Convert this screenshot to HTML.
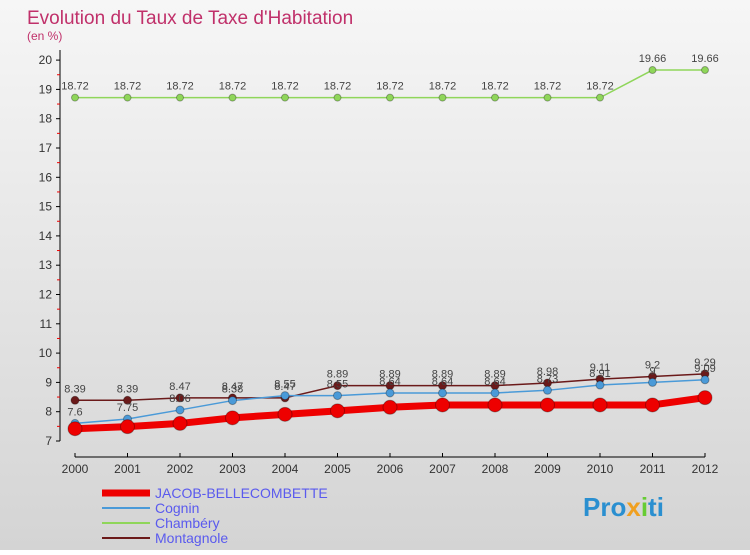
<!DOCTYPE html>
<html><head><meta charset="utf-8"><style>
body{margin:0;width:750px;height:550px;overflow:hidden;font-family:"Liberation Sans",sans-serif}
#c{position:absolute;left:0;top:0;width:750px;height:550px;background:linear-gradient(#f6f6f6,#d4d4d4)}
</style></head><body>
<div id="c">
<svg id="s" width="750" height="550">
<text x="27" y="24" font-size="19" fill="#c0306a">Evolution du Taux de Taxe d'Habitation</text>
<text x="27" y="40" font-size="12" fill="#c0306a">(en %)</text>
<g id="axes"></g><g id="series"></g><g id="legend"></g>
<g><text x="583" y="516" font-size="26" font-weight="bold" fill="#2a8fd0">Pro<tspan fill="#f0a020">x</tspan><tspan fill="#6c3">i</tspan>ti</text></g>
</svg></div>
<script>
const years=[2000,2001,2002,2003,2004,2005,2006,2007,2008,2009,2010,2011,2012];
const jacob=[7.42,7.49,7.6,7.79,7.91,8.03,8.15,8.23,8.23,8.23,8.23,8.23,8.48];
const cognin=[7.6,7.75,8.06,8.38,8.55,8.55,8.64,8.64,8.64,8.73,8.91,9.0,9.09];
const chambery=[18.72,18.72,18.72,18.72,18.72,18.72,18.72,18.72,18.72,18.72,18.72,19.66,19.66];
const montagnole=[8.39,8.39,8.47,8.47,8.47,8.89,8.89,8.89,8.89,8.98,9.11,9.2,9.29];
const yTicks=[7,8,9,10,11,12,13,14,15,16,17,18,19,20];
const NS="http://www.w3.org/2000/svg";
const X=i=>75+i*52.5, Y=v=>441-(v-7)*29.3;
function mk(t,a,p){const e=document.createElementNS(NS,t);for(const k in a)e.setAttribute(k,a[k]);p.appendChild(e);return e;}
const ax=document.getElementById('axes');
let l=mk('line',{x1:60,y1:50,x2:60,y2:441,stroke:'#000'},ax);

l=mk('line',{x1:75,y1:457,x2:705,y2:457,stroke:'#000'},ax);

yTicks.forEach(v=>{const y=Y(v);mk('line',{x1:56,y1:y,x2:60,y2:y,stroke:'#000'},ax);
 if(v<20)mk('line',{x1:57,y1:y-14.65,x2:60,y2:y-14.65,stroke:'#e00'},ax);
 const t=mk('text',{x:52,y:y+4,'font-size':12,'text-anchor':'end',fill:'#333'},ax);t.textContent=v;
 });
years.forEach((yr,i)=>{mk('line',{x1:X(i),y1:453,x2:X(i),y2:457,stroke:'#000'},ax);
 const t=mk('text',{x:X(i),y:473,'font-size':12,'text-anchor':'middle',fill:'#333'},ax);t.textContent=yr;
 });
const sg=document.getElementById('series');
function series(d,col,w,r,name,lab){const g=mk('g',{},sg);
 
 const p=mk('polyline',{points:d.map((v,i)=>X(i)+','+Y(v)).join(' '),fill:'none',stroke:col,'stroke-width':w,'stroke-linejoin':'round'},g);
 
 d.forEach((v,i)=>{const c=mk('circle',{cx:X(i),cy:Y(v),r:r,fill:col,stroke:'rgba(0,0,0,0.3)'},g);
  
  if(lab){const t=mk('text',{x:X(i),y:Y(v)-8,'font-size':11,'text-anchor':'middle',fill:'#444'},g);t.textContent=v;
  }});}
series(chambery,'#8fd65a',1.5,3.5,'chambery',true);
series(montagnole,'#6b1a1a',1.5,4,'montagnole',true);
series(cognin,'#4a9ad8',1.5,4,'cognin',true);
series(jacob,'#ee0000',7,7,'jacob-bellecombette',false);
const lg=document.getElementById('legend');
const ent=[['JACOB-BELLECOMBETTE','#ee0000',7],['Cognin','#4a9ad8',2],['Chambéry','#8fd65a',2],['Montagnole','#6b1a1a',2]];
ent.forEach((e,i)=>{const y=493+i*15;const g=mk('g',{},lg);
 
 mk('line',{x1:102,y1:y,x2:150,y2:y,stroke:e[1],'stroke-width':e[2]},g);
 const t=mk('text',{x:155,y:y+5,'font-size':14,fill:'#5a5aee'},g);t.textContent=e[0];});
</script>
</body></html>
